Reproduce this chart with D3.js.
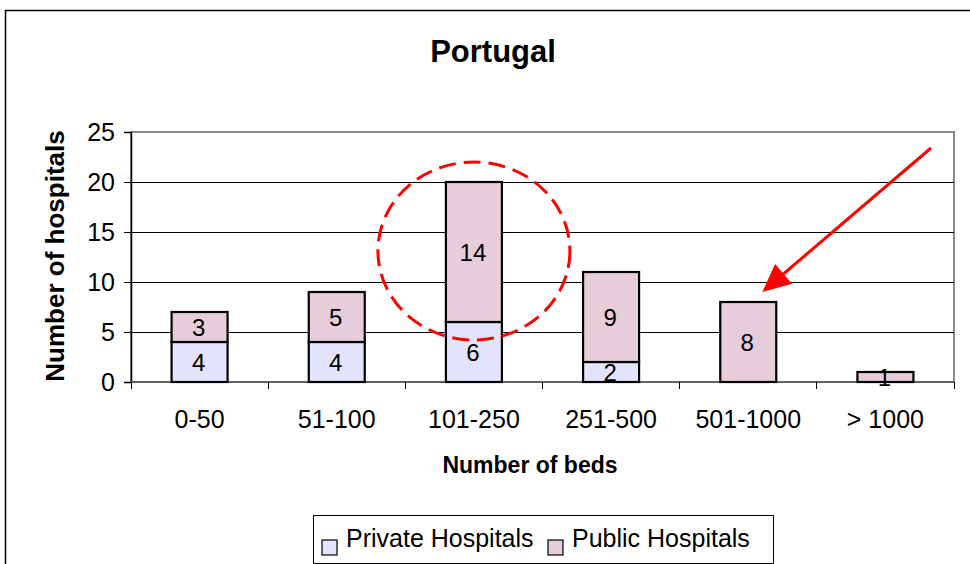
<!DOCTYPE html>
<html>
<head>
<meta charset="utf-8">
<script src="https://cdn.jsdelivr.net/npm/d3@7"></script>
<style>
  body { margin: 0; background: #fff; }
  svg { display: block; font-family: Arial, "Liberation Sans", sans-serif; }
</style>
</head>
<body>
<svg id="chart" width="970" height="564"></svg>
<script>
// data
var categories = ["0-50", "51-100", "101-250", "251-500", "501-1000", "> 1000"];
var privateHosp = [4, 4, 6, 2, 0, 0];
var publicHosp = [3, 5, 14, 9, 8, 1];
var yTicks = [0, 5, 10, 15, 20, 25];
var seriesNames = ["Private Hospitals", "Public Hospitals"];
var colors = ["#E3E3FB", "#E6CDD9"];

var margin = {top: 132, right: 16, bottom: 182, left: 131};
var width = 970, height = 564;
var plotW = width - margin.left - margin.right,
    plotH = height - margin.top - margin.bottom;

var svg = d3.select("#chart");

// outer chart border (only left + top show in the frame)
svg.append("rect")
  .attr("x", 5.5).attr("y", 10.5)
  .attr("width", 1000).attr("height", 600)
  .attr("fill", "none").attr("stroke", "#000").attr("stroke-width", 1.5);

svg.append("text")
  .attr("x", 493).attr("y", 62)
  .attr("text-anchor", "middle")
  .attr("font-size", 31).attr("font-weight", "bold")
  .text("Portugal");

var g = svg.append("g").attr("transform", "translate(" + margin.left + "," + margin.top + ")");

var x = d3.scaleBand().domain(categories).range([0, plotW]);
var y = d3.scaleLinear().domain([0, 25]).range([plotH, 0]);

// plot area frame
g.append("rect")
  .attr("width", plotW).attr("height", plotH)
  .attr("fill", "none").attr("stroke", "#8c8c8c").attr("stroke-width", 2);

// gridlines
g.selectAll(".grid").data(yTicks.filter(function(t){ return t > 0 && t < 25; }))
  .enter().append("line")
  .attr("x1", 0).attr("x2", plotW)
  .attr("y1", function(d){ return y(d) + 0.5; }).attr("y2", function(d){ return y(d) + 0.5; })
  .attr("stroke", "#000").attr("stroke-width", 1)
  .attr("shape-rendering", "crispEdges");

// y axis
var yAxis = d3.axisLeft(y).tickValues(yTicks).tickSize(7).tickPadding(9);
g.append("g").call(yAxis).call(function(a){
  a.select(".domain").attr("stroke", "#000").attr("stroke-width", 1.5);
  a.selectAll(".tick line").attr("stroke-width", 1).attr("shape-rendering", "crispEdges");
  a.selectAll(".tick text").attr("font-size", 25).attr("font-family", null).attr("fill", "#000");
});

// x axis: ticks sit on category boundaries
var bottom = g.append("g").attr("transform", "translate(0," + plotH + ")");
bottom.append("line").attr("x1", 0).attr("x2", plotW)
  .attr("stroke", "#555").attr("stroke-width", 1.5);
var bounds = categories.map(function(c){ return x(c); }).concat([plotW]);
bottom.selectAll(".xt").data(bounds).enter().append("line")
  .attr("x1", function(d){ return d; }).attr("x2", function(d){ return d; })
  .attr("y1", 0).attr("y2", 7)
  .attr("stroke", "#000").attr("stroke-width", 1)
  .attr("shape-rendering", "crispEdges");
bottom.selectAll(".xl").data(categories).enter().append("text")
  .attr("x", function(d){ return x(d) + x.bandwidth() / 2; })
  .attr("y", 46)
  .attr("text-anchor", "middle")
  .attr("font-size", 25)
  .text(function(d){ return d; });

// stacked bars
var rows = categories.map(function(c, i){ return {cat: c, priv: privateHosp[i], pub: publicHosp[i]}; });
var stack = d3.stack().keys(["priv", "pub"])(rows);
var barW = 56;

var layers = g.selectAll(".layer").data(stack).enter().append("g")
  .attr("fill", function(d, i){ return colors[i]; });

layers.selectAll("rect").data(function(d){ return d.filter(function(s){ return s[1] - s[0] > 0; }); })
  .enter().append("rect")
  .attr("x", function(d){ return x(d.data.cat) + x.bandwidth() / 2 - barW / 2; })
  .attr("y", function(d){ return y(d[1]); })
  .attr("width", barW)
  .attr("height", function(d){ return y(d[0]) - y(d[1]); })
  .attr("stroke", "#000").attr("stroke-width", 2.2);

layers.selectAll("text").data(function(d){ return d.filter(function(s){ return s[1] - s[0] > 0; }); })
  .enter().append("text")
  .attr("x", function(d){ return x(d.data.cat) + x.bandwidth() / 2 - 1; })
  .attr("y", function(d){ return (y(d[0]) + y(d[1])) / 2; })
  .attr("dy", "0.36em")
  .attr("text-anchor", "middle")
  .attr("font-size", 24).attr("fill", "#000")
  .text(function(d){ return d[1] - d[0]; });

// axis titles
svg.append("text")
  .attr("transform", "translate(64,256) rotate(-90)")
  .attr("text-anchor", "middle")
  .attr("font-size", 26).attr("font-weight", "bold")
  .text("Number of hospitals");

svg.append("text")
  .attr("x", 530).attr("y", 473)
  .attr("text-anchor", "middle")
  .attr("font-size", 23).attr("font-weight", "bold")
  .text("Number of beds");

// annotations: dashed ellipse round 101-250 and arrow to 501-1000
var hl = x("101-250") + x.bandwidth() / 2;
g.append("ellipse")
  .attr("cx", hl).attr("cy", y(13.1))
  .attr("rx", 96).attr("ry", y(0) - y(8.9))
  .attr("fill", "none").attr("stroke", "#ff0000").attr("stroke-width", 3)
  .attr("stroke-dasharray", "17,8");

var x0 = plotW - 23, y0 = y(23.4);
var x1 = x("501-1000") + x.bandwidth() / 2 + 14, y1 = y(9.0);
var dx = x1 - x0, dy = y1 - y0, len = Math.sqrt(dx * dx + dy * dy);
var ux = dx / len, uy = dy / len, headL = 28, headW = 13;
var bx = x1 - ux * headL, by = y1 - uy * headL;
g.append("line")
  .attr("x1", x0).attr("y1", y0).attr("x2", bx + ux * 2).attr("y2", by + uy * 2)
  .attr("stroke", "#ff0000").attr("stroke-width", 3);
g.append("path")
  .attr("d", "M" + x1 + "," + y1 +
             "L" + (bx - uy * headW) + "," + (by + ux * headW) +
             "L" + (bx + uy * headW) + "," + (by - ux * headW) + "Z")
  .attr("fill", "#ff0000");

// legend
var leg = svg.append("g").attr("transform", "translate(313,515)");
leg.append("rect").attr("x", 0.5).attr("y", 0.5).attr("width", 460).attr("height", 48)
  .attr("fill", "#fff").attr("stroke", "#000").attr("stroke-width", 1);
var legX = [9, 235];
seriesNames.forEach(function(name, i){
  leg.append("rect")
    .attr("x", legX[i]).attr("y", 25).attr("width", 15).attr("height", 15)
    .attr("fill", colors[i]).attr("stroke", "#000").attr("stroke-width", 1.2);
  leg.append("text")
    .attr("x", legX[i] + 24).attr("y", 32)
    .attr("font-size", 25)
    .text(name);
});
</script>
</body>
</html>
